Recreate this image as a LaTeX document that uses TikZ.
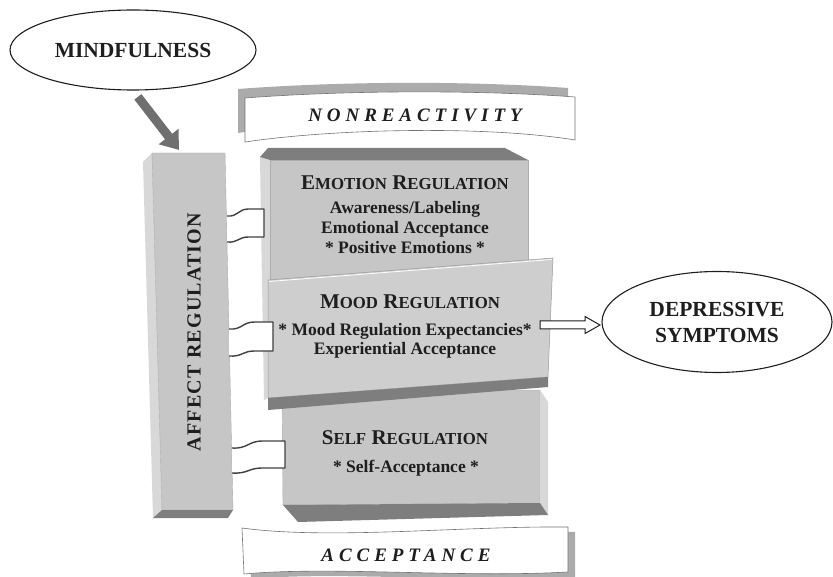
\documentclass[tikz,border=0pt]{standalone}
\usepackage{fontspec}
\setmainfont{Liberation Serif}
\usetikzlibrary{shapes.geometric,arrows.meta,calc}
\definecolor{face}{HTML}{C6C6C6}
\definecolor{facem}{HTML}{CECECE}
\definecolor{sidel}{HTML}{D8D8D8}
\definecolor{darkf}{HTML}{7E7E7E}
\definecolor{bandg}{HTML}{ABABAB}
\definecolor{arrg}{HTML}{6F6F6F}
\definecolor{ink}{HTML}{1E1E1E}
\newcommand\fakesc[2]{{\fontsize{21}{21}\selectfont #1}{\fontsize{16.8}{16.8}\selectfont #2}}
\begin{document}
\begin{tikzpicture}[x=1pt,y=-1pt,
  ell/.style={ellipse, draw=ink, line width=1.1pt, fill=white, inner sep=0pt, align=center,
    font=\bfseries\fontsize{21.5}{26}\selectfont, text=ink},
  titletext/.style={font=\bfseries\fontsize{21}{21}\selectfont, text=ink, inner sep=0pt},
  bodytext/.style={font=\bfseries\fontsize{17.5}{20}\selectfont, text=ink, align=center, inner sep=0pt},
  bantext/.style={font=\bfseries\itshape\fontsize{19}{19}\selectfont\addfontfeature{LetterSpace=26}, text=ink, inner sep=0pt},
  edge/.style={draw=black!32, line width=0.4pt, line join=round},
  ribline/.style={draw=ink!85, line width=1.4pt, line join=round},
  nonpath/.style={insert path={(245,98) .. controls (350,90) and (480,90) .. (575,97) -- (575,140) .. controls (490,126) and (340,128) .. (245,142) -- cycle}},
  accpath/.style={insert path={(242,528) .. controls (330,540) and (460,526) .. (568,527) -- (568,572) .. controls (460,578) and (330,566) .. (244,574) -- cycle}},
  pics/ribbon/.style n args={2}{code={
    \fill[white] (0,7) .. controls (0.3*#1,8) and (0.3*#1,0) .. (0.58*#1,0) -- (#1,0)
      -- (#1,#2) -- (0.58*#1,#2) .. controls (0.3*#1,#2) and (0.3*#1,#2+6) .. (0,#2+5) -- cycle;
    \draw[ribline] (0,7) .. controls (0.3*#1,8) and (0.3*#1,0) .. (0.58*#1,0) -- (#1,0)
      -- (#1,#2) -- (0.58*#1,#2) .. controls (0.3*#1,#2) and (0.3*#1,#2+6) .. (0,#2+5);
  }}
]
\useasboundingbox (0,0) rectangle (833,577);

% banners
\fill[bandg, shift={(-7,-9)}, nonpath];
\filldraw[fill=white, draw=black!55, line width=0.6pt, nonpath];
\fill[bandg, shift={(7,5)}, accpath];
\filldraw[fill=white, draw=black!55, line width=0.6pt, accpath];

% emotion box
\fill[sidel] (260,157) -- (270,160) -- (270,285) -- (262,285) -- cycle;
\fill[darkf] (260,157) -- (268,148) -- (505,148) -- (528,160) -- (270,160) -- cycle;
\filldraw[fill=face, edge] (270,160) -- (528,160) -- (528,285) -- (270,285) -- cycle;

% self box
\filldraw[fill=face, edge] (282,390) -- (540,390) -- (540,503) -- (283,505) -- cycle;
\fill[sidel] (540,390) -- (548,402) -- (548,515) -- (540,503) -- cycle;
\fill[darkf] (283,505) -- (540,503) -- (548,515) -- (298,522) -- cycle;

% mood box
\fill[sidel] (262,283) -- (268,280) -- (268,398) -- (264,400) -- cycle;
\filldraw[fill=facem, draw=black!40, line width=0.5pt] (268,280) -- (553,258) -- (548,377) -- (268,398) -- cycle;
\draw[white, line width=0.8pt] (269,281.5) -- (551.5,259.5);
\fill[darkf] (268,398) -- (548,377) -- (548,387) -- (268,410) -- cycle;

% affect column
\fill[sidel] (143,162) -- (152,153) -- (162,510) -- (153,518) -- cycle;
\filldraw[fill=face, edge] (152,153) -- (225,153) -- (233,510) -- (162,510) -- cycle;
\fill[darkf] (162,510) -- (233,510) -- (228,518) -- (153,518) -- cycle;
\coordinate (colTop) at (179,150);

% ribbons
\pic at (227,209) {ribbon={37}{28}};
\pic at (229,322) {ribbon={44}{29}};
\pic at (232,441) {ribbon={53}{27}};

% ellipses
\node[ell, minimum width=246pt, minimum height=80pt] (mind) at (133,50) {MINDFULNESS};
\node[ell, minimum width=230pt, minimum height=101pt] (dep) at (717,322) {DEPRESSIVE\\SYMPTOMS};

% arrows
\draw[line width=9pt, arrg, shorten <=8pt, -{Triangle[length=17pt,width=24pt]}] (mind.south) -- (colTop);
\coordinate (ht) at (540,325);
\coordinate (hh) at (600,325);
\filldraw[fill=white, draw=ink, line width=1pt, line join=miter]
  ($(ht)+(0,-4)$) -- ($(hh)+(-15,-4)$) -- ($(hh)+(-15,-8.5)$) -- (hh) -- ($(hh)+(-15,8.5)$)
  -- ($(hh)+(-15,4)$) -- ($(ht)+(0,4)$) -- cycle;

% texts
\node[titletext, font=\bfseries\fontsize{20}{20}\selectfont\addfontfeature{LetterSpace=6}, rotate=90] (affect) at (194,332) {AFFECT REGULATION};
\node[bantext] (nonr) at (415,115) {NONREACTIVITY};
\node[bantext] (acc) at (406,555) {ACCEPTANCE};

\node[titletext] (emot) at (405,183) {\fakesc{E}{MOTION} \fakesc{R}{EGULATION}};
\node[bodytext] (emotb) at (405,228) {Awareness/Labeling\\Emotional Acceptance\\* Positive Emotions *};
\node[titletext] (mood) at (410,302) {\fakesc{M}{OOD} \fakesc{R}{EGULATION}};
\node[bodytext, font=\bfseries\fontsize{17.5}{18.5}\selectfont] (moodb) at (405,341) {* Mood Regulation Expectancies*\\Experiential Acceptance};
\node[titletext] (self) at (405,438) {\fakesc{S}{ELF} \fakesc{R}{EGULATION}};
\node[bodytext] (selfb) at (406,468) {* Self-Acceptance *};
\end{tikzpicture}
\end{document}
